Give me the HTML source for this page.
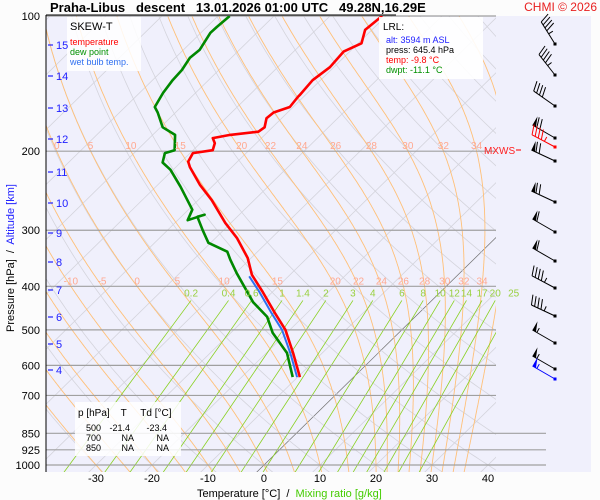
<!DOCTYPE html>
<html><head><meta charset="utf-8">
<style>
html,body{margin:0;padding:0;background:#fcfcfc;}
svg{display:block;font-family:"Liberation Sans",sans-serif;}
</style></head>
<body>
<svg id="chart" width="600" height="500" viewBox="0 0 600 500" xmlns="http://www.w3.org/2000/svg">
<defs><clipPath id="plotclip"><rect x="46" y="16" width="450" height="456"/></clipPath></defs>
<rect x="46" y="16" width="545" height="456" fill="#f0f0fc"/>
<g id="bg" clip-path="url(#plotclip)"></g>
<g id="plines"></g>
<g id="series" clip-path="url(#plotclip)"></g>
<g id="labels"></g>
<line x1="46" y1="15" x2="396" y2="15" stroke="#000" stroke-width="1"/>
<line x1="46" y1="15" x2="46" y2="472" stroke="#000" stroke-width="1"/>
<text x="50" y="12" font-size="13" font-weight="bold" xml:space="preserve">Praha-Libus   descent   13.01.2026 01:00 UTC   49.28N,16.29E</text>
<text x="597" y="11" font-size="12" fill="#e82020" text-anchor="end">CHMI © 2026</text>
<g>
<rect x="67" y="17" width="74" height="54" fill="#ffffff" fill-opacity="0.85"/>
<text x="70" y="30" font-size="11">SKEW-T</text>
<text x="70" y="45" font-size="9" fill="#ff0000">temperature</text>
<text x="70" y="55" font-size="9" fill="#009000">dew point</text>
<text x="70" y="65" font-size="9" fill="#3070f0">wet bulb temp.</text>
</g>
<g>
<rect x="379" y="17" width="104" height="62" fill="#ffffff" fill-opacity="0.9"/>
<text x="383" y="30" font-size="10">LRL:</text>
<text x="386" y="43" font-size="9" fill="#2020ff">alt: 3594 m ASL</text>
<text x="386" y="53" font-size="9">press: 645.4 hPa</text>
<text x="386" y="63" font-size="9" fill="#ff0000">temp: -9.8 °C</text>
<text x="386" y="73" font-size="9" fill="#009000">dwpt: -11.1 °C</text>
</g>
<g font-size="9">
<rect x="75" y="402" width="106" height="54" fill="#ffffff" fill-opacity="0.85"/>
<text x="78" y="416" font-size="10" xml:space="preserve">p [hPa]    T     Td [°C]</text>
<text x="101" y="431" text-anchor="end">500</text><text x="130" y="431" text-anchor="end">-21.4</text><text x="167" y="431" text-anchor="end">-23.4</text>
<text x="101" y="441" text-anchor="end">700</text><text x="134" y="441" text-anchor="end">NA</text><text x="169" y="441" text-anchor="end">NA</text>
<text x="101" y="451" text-anchor="end">850</text><text x="134" y="451" text-anchor="end">NA</text><text x="169" y="451" text-anchor="end">NA</text>
</g>
<text x="484" y="154" font-size="10" fill="#ff2020">MXWS</text>
<line x1="516" y1="150" x2="521" y2="150" stroke="#ff2020" stroke-width="1.2"/>
<g id="axes"></g>
<g id="barbs"></g>
<text transform="translate(14,332) rotate(-90)" font-size="11" xml:space="preserve">Pressure [hPa]  /  <tspan fill="#2020ff">Altitude [km]</tspan></text>
<text x="197" y="497" font-size="11" xml:space="preserve">Temperature [°C]  /  <tspan fill="#44cc00">Mixing ratio [g/kg]</tspan></text>
</svg>
<script>
// ---- data ----
const tempP = [637,563,500,459,412,377,346,312,289,257,238,217,211,202,199,192,187,184,181,177,169,164,159.5,151.5,150,139,130,120,115,107.4,100];
const tempT = [-9.6,-15.2,-20.8,-25.7,-31.7,-36.8,-40.6,-46.2,-51.0,-57.6,-62.4,-67.5,-68.8,-69.5,-66.5,-67.4,-68.7,-66.2,-61.7,-61.4,-62.7,-62.5,-60.6,-61.0,-61.0,-61.4,-60.7,-61.1,-59.4,-61.2,-60.7];
const dewP = [637,563,508,468,434,374,349,335,320,300,280,277,285,270,240,220,212,202,199,184,177,164,159.5,148.4,139,131.9,124,119,109,105.8,100];
const dewT = [-10.9,-16.3,-22.5,-26.4,-31.6,-39.8,-43.4,-45.4,-50.4,-53.7,-57.1,-56.2,-58.2,-59.3,-65.6,-70.5,-73.2,-74.5,-73.3,-76.0,-79.6,-83.2,-84.7,-85.8,-86.4,-86.6,-87.4,-87.1,-88.3,-88.2,-87.9];
const wbP = [637,563,500,459,412,380];
const wbT = [-10.1,-15.7,-21.4,-26.3,-32.3,-37.0];
const pressureTicks = [100,200,300,400,500,600,700,850,925,1000];
const altKm = [15,14,13,12,11,10,9,8,7,6,5,4];
const altY = [45,76,108,139,172,203,233,262,290,317,344,370];
const tempTicks = [-30,-20,-10,0,10,20,30,40];
const thetaW = [-30,-25,-20,-15,-10,-5,0,5,10,15,20,22,24,26,28,30,32,34,36];
const thetaWLab200 = [0,5,10,15,20,22,24,26,28,30,32,34];
const thetaWLab400 = [-10,-5,0,5,10,15,20,22,24,26,28,30,32,34];
const mixRatios = [0.2,0.4,0.6,1,1.4,2,3,4,6,8,10,12,14,17,20,25];
const mixLabels = ["0.2","0.4","0.6","1","1.4","2","3","4","6","8","10","12","14","17","20","25"];
const windY = [44,75,106,138,161,202,232,261,288,316,343,369];
const windDir = [328,322,305,300,295,295,300,300,298,295,300,300];
const windSpd = [45,45,40,70,70,70,60,60,45,45,55,55];
const mxwsY = 147, mxwsDir = 298, mxwsSpd = 45;
const lrlY = 379, lrlDir = 300, lrlSpd = 55;

// ---- axis functions ----
const X0 = 264, Y1000 = 465, KP = 195, KT = 5.6, SKEW = 1.02;
function py(p){ return 16 + KP*Math.log(p/100); }
function tx(T,p){ return X0 + KT*T + (Y1000 - py(p))*SKEW; }
const NS = "http://www.w3.org/2000/svg";
function mk(tag, attrs, parent){ const e=document.createElementNS(NS,tag); for(const k in attrs) e.setAttribute(k,attrs[k]); parent.appendChild(e); return e; }
function poly(pts){ return pts.map(q=>q[0].toFixed(1)+","+q[1].toFixed(1)).join(" "); }
const bg = document.getElementById("bg"), series=document.getElementById("series"), labels=document.getElementById("labels"), axes=document.getElementById("axes"), plines=document.getElementById("plines"), barbs=document.getElementById("barbs");

// isotherms
for(let T=-130; T<=50; T+=10){
  const l = mk("line",{x1:tx(T,1050),y1:py(1050),x2:tx(T,95),y2:py(95),stroke:T===0?"#707070":"#d4d4dc","stroke-width":T===0?0.7:0.8},bg);
  
  
}
// dry adiabats
for(let th=-40; th<=220; th+=10){
  const pts=[]; for(let p=1050;p>=95;p-=10){ const T=(th+273.15)*Math.pow(p/1000,0.2857)-273.15; pts.push([tx(T,p),py(p)]); }
  const l = mk("polyline",{points:poly(pts),fill:"none",stroke:"#d4d4dc","stroke-width":0.8},bg);
  
  
}
// moist adiabats
function es(T){ return 6.112*Math.exp(17.67*T/(T+243.5)); }
function moist(tw){
  const res=[]; let T=tw+273.15; let p=1000;
  const down=[]; let Td=T;
  for(let q=1000;q<=1050;q+=5){ down.push([q,Td-273.15]); const rs=0.622*es(Td-273.15)/(q-es(Td-273.15)); const g=(287*Td+2.5e6*rs)/(1004+2.5e6*2.5e6*rs*0.622/(287*Td*Td)); Td+=g/q*5; }
  for(p=1000;p>=95;p-=2){
    res.push([p,T-273.15]);
    const tc=T-273.15; const rs=0.622*es(tc)/(p-es(tc));
    const g=(287*T+2.5e6*rs)/(1004+2.5e6*2.5e6*rs*0.622/(287*T*T));
    T -= g/p*2;
  }
  return down.reverse().concat(res);
}
const moistCurves = {};
thetaW.forEach(tw=>{
  const c=moist(tw); moistCurves[tw]=c;
  const l = mk("polyline",{points:poly(c.map(d=>[tx(d[1],d[0]),py(d[0])])),fill:"none",stroke:"#ffc078","stroke-width":0.9},bg);
  
  
});
function moistAt(tw,p){ const c=moistCurves[tw]; let best=c[0]; c.forEach(d=>{ if(Math.abs(d[0]-p)<Math.abs(best[0]-p)) best=d; }); return best[1]; }
thetaWLab200.forEach(tw=>{
  const x=tx(moistAt(tw,200),200);
  const t = mk("text",{x:x,y:py(200)-2,"font-size":10,fill:"#ffa890","text-anchor":"middle"},labels); t.textContent=tw;
  
  
});
thetaWLab400.forEach(tw=>{
  const x=tx(moistAt(tw,400),400);
  const t = mk("text",{x:x,y:py(400)-2,"font-size":10,fill:"#ffa890","text-anchor":"middle"},labels); t.textContent=tw;
  
  
});
// mixing ratio lines
function tdFromW(w,p){ const e=w*p/(622+w); const a=Math.log(e/6.112); return 243.5*a/(17.67-a); }
mixRatios.forEach((w,i)=>{
  const p1=1050,p2=430;
  const l = mk("line",{x1:tx(tdFromW(w,p1),p1),y1:py(p1),x2:tx(tdFromW(w,p2),p2),y2:py(p2),stroke:"#88d020","stroke-width":0.8},bg);
  
  
  const t = mk("text",{x:tx(tdFromW(w,p2),p2),y:py(p2)-4,"font-size":10,fill:"#99d040","text-anchor":"middle"},labels); t.textContent=mixLabels[i];
  
  
});
// pressure grid + labels
pressureTicks.forEach(p=>{
  const y=py(p);
  const l = mk("line",{x1:46,y1:y,x2:p>=850?546:496,y2:y,stroke:"#a0a0a0","stroke-width":1.2},plines);
  
  
  const t = mk("text",{x:40,y:y+4,"font-size":11,"text-anchor":"end"},axes); t.textContent=p;
  
  
});
altKm.forEach((k,i)=>{
  const l = mk("line",{x1:48,y1:altY[i],x2:53,y2:altY[i],stroke:"#2020ff","stroke-width":1.2},axes);
  
  
  const t = mk("text",{x:56,y:altY[i]+4,"font-size":11,fill:"#2020ff"},axes); t.textContent=k;
  
  
});
tempTicks.forEach(T=>{
  const t = mk("text",{x:tx(T,1000),y:482,"font-size":11,"text-anchor":"middle"},axes); t.textContent=T;
  
  
});
// series
function line(P,T,color,w,name){
  const l = mk("polyline",{points:poly(P.map((p,i)=>[tx(T[i],p),py(p)])),fill:"none",stroke:color,"stroke-width":w,"stroke-linejoin":"round"},series);
  
  
}
line(dewP,dewT,"#008800",2.6,"dew-point-line");
line(wbP,wbT,"#3070f0",2,"wet-bulb-line");
line(tempP,tempT,"#ff0000",2.6,"temperature-line");
// wind barbs
function barb(y,dir,spd,color){
  const g=mk("g",{},barbs);
  const bx=555, L=26;
  const a=dir*Math.PI/180;
  const dx=Math.sin(a)*L, dy=-Math.cos(a)*L;
  const tx_=bx+dx, ty_=y+dy;
  mk("line",{x1:bx,y1:y,x2:tx_,y2:ty_,stroke:color,"stroke-width":1},g);
  mk("rect",{x:bx-1.5,y:y-1.5,width:3,height:3,fill:color},g);
  const sx=dx/L, sy=dy/L; // unit toward tip
  const ox=-sy, oy=sx; // perpendicular (clockwise side)
  const bl=10; let s=spd; let pos=0;
  while(s>=50){ const x0=tx_-sx*pos, y0=ty_-sy*pos; mk("polygon",{points:`${x0},${y0} ${x0+ox*bl},${y0+oy*bl} ${x0-sx*4},${y0-sy*4}`,fill:color},g); pos+=5; s-=50; }
  while(s>=10){ const x0=tx_-sx*pos, y0=ty_-sy*pos; mk("line",{x1:x0,y1:y0,x2:x0+ox*bl+sx*3,y2:y0+oy*bl+sy*3,stroke:color,"stroke-width":1},g); pos+=3.5; s-=10; }
  if(s>=5){ const x0=tx_-sx*pos, y0=ty_-sy*pos; mk("line",{x1:x0,y1:y0,x2:x0+ox*bl/2,y2:y0+oy*bl/2,stroke:color,"stroke-width":1},g); }
  return g;
}
windY.forEach((y,i)=>{
  const g=barb(y,windDir[i],windSpd[i],"#000");
  
  
});
const gm=barb(mxwsY,mxwsDir,mxwsSpd,"#ff0000");


const gl=barb(lrlY,lrlDir,lrlSpd,"#0000ff");


</script>
</body></html>
